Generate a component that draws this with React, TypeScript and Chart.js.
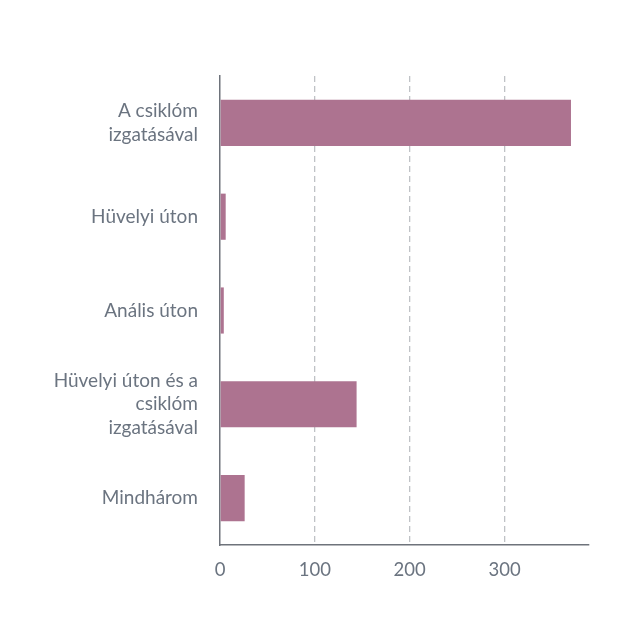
import { useEffect, useRef } from 'react';
import Chart from 'chart.js/auto';

const categories: string[][] = [
  ['A csiklóm', 'izgatásával'],
  ['Hüvelyi úton'],
  ['Anális úton'],
  ['Hüvelyi úton és a', 'csiklóm', 'izgatásával'],
  ['Mindhárom'],
];
const values: number[] = [370, 6, 4, 144, 26];
const xTicks: number[] = [0, 100, 200, 300];
const xMax = 389;

export default function App() {
  const chartRef = useRef<HTMLCanvasElement | null>(null);
  const chartInstance = useRef<Chart | null>(null);

  useEffect(() => {
    if (!chartRef.current) return;
    if (chartInstance.current) chartInstance.current.destroy();
    const ctx = chartRef.current.getContext('2d');
    if (!ctx) return;

    const textColor = '#6b7480';

    chartInstance.current = new Chart(ctx, {
      type: 'bar',
      data: {
        labels: categories,
        datasets: [
          {
            data: values,
            backgroundColor: '#ad7390',
            borderWidth: 0,
            barPercentage: 0.6,
            categoryPercentage: 0.82,
          },
        ],
      },
      options: {
        indexAxis: 'y',
        responsive: true,
        maintainAspectRatio: false,
        animation: false,
        layout: { padding: { left: 0, right: 51, top: 76, bottom: 49 } },
        plugins: {
          legend: { display: false },
          tooltip: { enabled: false },
        },
        scales: {
          x: {
            min: 0,
            max: xMax,
            afterBuildTicks: (scale: any) => {
              scale.ticks = xTicks.map((v) => ({ value: v }));
            },
            afterFit: (scale: any) => {
              scale.height = 50;
            },
            grid: {
              color: (c: any) => (c.tick && c.tick.value === 0 ? 'rgba(0,0,0,0)' : '#bfc2c6'),
              lineWidth: 1.3,
              drawTicks: false,
            },
            border: { color: '#6e737b', width: 1.5, dash: [6, 4] as any },
            ticks: {
              color: textColor,
              font: { family: 'Lato', size: 18.5 },
              padding: 14,
            },
          },
          y: {
            afterFit: (scale: any) => {
              scale.width = 220;
            },
            grid: { display: false, drawTicks: false },
            border: { color: '#6e737b', width: 1.5 },
            ticks: {
              color: textColor,
              font: { family: 'Lato', size: 19, lineHeight: 1.24 },
              padding: 22,
            },
          },
        },
      },
    });

    return () => {
      if (chartInstance.current) {
        chartInstance.current.destroy();
        chartInstance.current = null;
      }
    };
  }, []);

  return (
    <div style={{ position: 'absolute', left: 0, top: 0, width: 640, height: 644, background: '#fff' }}>
      <canvas ref={chartRef}></canvas>
    </div>
  );
}
